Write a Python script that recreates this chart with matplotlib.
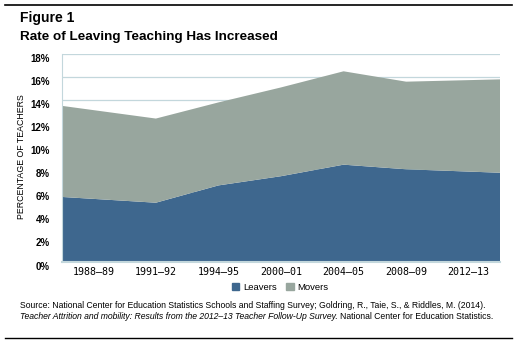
import numpy as np
import matplotlib.pyplot as plt
from matplotlib.lines import Line2D
from matplotlib.patches import Patch

years = ["1988–89", "1991–92", "1994–95", "2000–01", "2004–05", "2008–09", "2012–13"]
leavers = [5.6, 5.1, 6.6, 7.4, 8.4, 8.0, 7.7]
movers = [7.9, 7.3, 7.2, 7.7, 8.1, 7.6, 8.1]
yticks = [0, 2, 4, 6, 8, 10, 12, 14, 16, 18]

blue = "#3e678e"
gray = "#98a69e"
grid = "#c3d7dc"

plt.rcParams["font.family"] = ["Liberation Sans", "DejaVu Sans"]

fig = plt.figure(figsize=(5.17, 3.52), dpi=100)
ax = fig.add_axes([62/517, 1-261.5/352, 438/517, 207.5/352])

# interior points sit on category centres, the ends run to the frame edges
n = len(years)
x = np.arange(n, dtype=float)
x[0] = -0.5
x[-1] = n - 0.5

ax.stackplot(x, leavers, movers, colors=[blue, gray], linewidth=0, zorder=2)

ax.set_xlim(-0.5, n - 0.5)
ax.set_ylim(0, 18)
ax.set_xticks(np.arange(n))
ax.set_xticklabels(years, fontsize=7.2, family="DejaVu Sans Mono")
ax.set_yticks(yticks)
ax.set_yticklabels([f"{v}%" for v in yticks], fontsize=7, fontweight="bold")
ax.tick_params(length=0, pad=4)
ax.tick_params(axis="y", pad=9)
for lab in ax.get_yticklabels():
    lab.set_verticalalignment("top")
ax.yaxis.grid(True, color=grid, linewidth=0.9, zorder=1)
for s in ["top", "right"]:
    ax.spines[s].set_visible(False)
ax.spines["left"].set_color(grid)
ax.spines["bottom"].set_color(grid)
ax.spines["bottom"].set_linewidth(1.5)
ax.set_axisbelow(True)

fig.text(22/517, 1-157/352, "PERCENTAGE OF TEACHERS", rotation=90, fontsize=6.3,
         ha="center", va="center")

# title block
fig.add_artist(Line2D([5/517, 512/517], [1-5/352, 1-5/352], color="black", linewidth=1.2))
fig.text(20/517, 1-18/352, "Figure 1", fontsize=10, fontweight="bold", va="center")
fig.text(20/517, 1-37/352, "Rate of Leaving Teaching Has Increased", fontsize=9.7,
         fontweight="bold", va="center")

# legend
handles = [Patch(color=blue, label="Leavers"), Patch(color=gray, label="Movers")]
fig.legend(handles=handles, loc="center", bbox_to_anchor=(280/517, 1-287/352), ncol=2,
           frameon=False, prop={"size": 6.8}, handlelength=0.8,
           handleheight=0.8, handletextpad=0.4, columnspacing=1.0)

# source note
fs = 6.2
fig.text(20/517, 1-305.5/352,
         "Source: National Center for Education Statistics Schools and Staffing Survey; "
         "Goldring, R., Taie, S., & Riddles, M. (2014).", fontsize=fs, va="center")
t1 = fig.text(20/517, 1-316.5/352,
              "Teacher Attrition and mobility: Results from the 2012–13 Teacher Follow-Up Survey.",
              fontsize=fs, style="italic", va="center")
r = fig.canvas.get_renderer()
bb = t1.get_window_extent(r)
fig.text(bb.x1/fig.bbox.width + 2/517, 1-316.5/352,
         "National Center for Education Statistics.", fontsize=fs, va="center")
fig.add_artist(Line2D([5/517, 512/517], [1-338/352, 1-338/352], color="black", linewidth=1.0))

fig.savefig("out.png", dpi=100)
